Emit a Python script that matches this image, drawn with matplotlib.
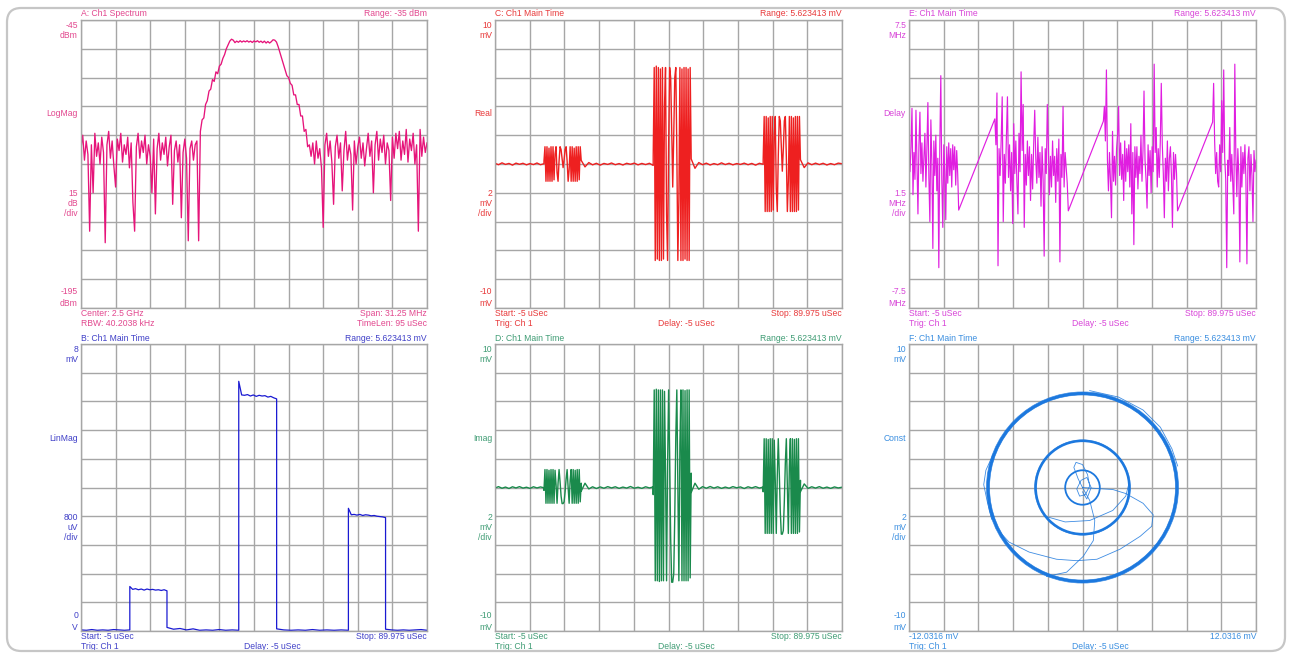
import numpy as np
import matplotlib
matplotlib.use("Agg")
import matplotlib.pyplot as plt
from matplotlib.patches import Circle, FancyBboxPatch

# --- CANVAS ---
W, H, DPI = 1289, 653, 100
FS = 6.2
GRID = '#a6a6a6'

# --- A: SPECTRUM (dBm), equally spaced over the span ---
SPAN_MHZ = 31.25
spec_left_dbm = [-112, -105, -118, -108, -115, -155, -110, -135, -104, -116,
                 -109, -120, -106, -114, -161, -110, -103, -117, -108, -121,
                 -132, -107, -113, -104, -119, -110, -115, -106, -122, -109,
                 -140, -155, -111, -104, -117, -108, -114, -105, -120, -110,
                 -116, -135, -107, -146, -112, -104, -118, -109, -115, -106,
                 -121, -111, -105, -141, -113, -108, -119, -110, -148, -114,
                 -107, -117, -160, -112, -108, -118, -110]
spec_rise_dbm = [-108, -160, -103, -97, -96, -89, -87, -82, -81, -76, -77,
                 -72, -73, -69, -68, -65, -63, -60, -58, -56, -55, -55.5]
spec_top_dbm = [-56.8, -56.0, -56.6, -55.8, -56.5, -55.9, -56.4, -55.8, -56.5, -56.0,
                -56.7, -55.9, -56.4, -55.8, -56.6, -56.0, -56.8, -56.0, -57.0, -56.2,
                -57.0, -56.3, -55.3, -55.5]
spec_fall_dbm = [-56.5, -59, -62, -65, -68, -71, -74, -75, -78, -79, -84,
                 -84, -89, -89, -95, -95, -103, -102, -111, -110, -116]
spec_right_dbm = [-109, -120, -108, -117, -112, -122,
                  -153, -110, -104, -116, -108, -119, -141, -111, -105, -117,
                  -109, -134, -113, -103, -118, -110, -115, -144, -108, -120,
                  -111, -106, -117, -109, -121, -112, -104, -116, -108, -135,
                  -110, -103, -118, -107, -114, -105, -120, -109, -113, -139,
                  -106, -117, -104, -112, -103, -118, -108, -115, -102, -119,
                  -107, -113, -104, -120, -110, -155, -102, -116, -106, -114,
                  -109]

# --- TIME RECORD (uSec) ---
T_START, T_STOP = -5.0, 89.975
burst_start_us = [8.4, 38.3, 68.4]
burst_stop_us = [18.6, 48.7, 78.6]

# C: Real (mV)
real_base_mv = [
    [0.05, -0.05, 0.08, -0.03, 0.04, -0.08, 0.06, -0.02, 0.05, -0.06, 0.03, -0.04, 0.07, -0.05, 0.02],
    [0.25, -0.2, 0.1, -0.06, 0.05, -0.08, 0.04, -0.03, 0.07, -0.05, 0.03, -0.07, 0.05, -0.02, 0.06, -0.06, 0.04, -0.04, 0.05, -0.1],
    [0.35, -0.3, 0.1, -0.05, 0.06, -0.07, 0.03, -0.05, 0.08, -0.04, 0.05, -0.06, 0.03, -0.03, 0.06, -0.05, 0.04, -0.08, 0.05, -0.02],
    [0.3, -0.25, 0.08, -0.05, 0.06, -0.04, 0.05, -0.07, 0.03, -0.05, 0.06, 0.02],
]
real_burst_mv = [
    [0.2, 1.2, -1.2, 1.2, -1.2, 1.1, -1.2, 1.2, -1.2, 1.2,
     -1.1, 0.7, 1.2, -0.6, -1.2, 0.2, 1.2, 1.0, 0.4, -0.25,
     0.3, 1.0, 1.2, 0.2, -1.2, -0.4, 1.2, -1.2, 1.2, -1.2,
     1.1, -1.2, 1.2, -1.2, 1.2, -1.1, 1.2, 0.3],
    [0.5, 6.7, -6.7, 6.8, -6.6, 6.7, -6.7, 6.6, -6.7, 6.7,
     -6.6, 4.0, 6.7, -3.5, -6.7, 1.2, 6.7, 6.0, 2.5, -1.6,
     2.0, 6.0, 6.7, 1.0, -6.7, -2.5, 6.7, -6.7, 6.6, -6.7,
     6.7, -6.6, 6.7, -6.7, 6.6, -6.7, 6.7, 0.8],
    [0.3, 3.3, -3.3, 3.3, -3.3, 3.2, -3.3, 3.3, -3.3, 3.3,
     -3.2, 2.0, 3.3, -1.7, -3.3, 0.6, 3.3, 3.0, 1.3, -0.5,
     1.0, 3.0, 3.3, 0.5, -3.3, -1.2, 3.3, -3.3, 3.3, -3.3,
     3.2, -3.3, 3.3, -3.3, 3.3, -3.2, 3.3, 0.4],
]

# D: Imag (mV)
imag_base_mv = [
    [-0.04, 0.06, -0.05, 0.03, -0.07, 0.05, -0.03, 0.06, -0.04, 0.02, -0.06, 0.05, -0.03, 0.04, -0.02],
    [-0.25, 0.3, -0.1, 0.05, -0.07, 0.04, -0.05, 0.06, -0.03, 0.05, -0.06, 0.03, -0.04, 0.07, -0.05, 0.02, -0.06, 0.05, -0.03, 0.04],
    [-0.35, 0.3, -0.12, 0.06, -0.05, 0.07, -0.04, 0.05, -0.06, 0.03, -0.05, 0.06, -0.02, 0.04, -0.07, 0.05, -0.03, 0.06, -0.04, 0.03],
    [-0.3, 0.25, -0.06, 0.05, -0.04, 0.06, -0.05, 0.03, -0.06, 0.04, -0.03, 0.02],
]
imag_burst_mv = [
    [-0.2, 1.25, -1.1, 1.25, -1.1, 1.2, -1.1, 1.25, -1.1, 1.25,
     -1.1, 1.2, 0.2, -1.1, 0.3, 1.25, 0.4, -0.6, -1.12, -1.12,
     -1.0, -0.3, 0.6, 1.25, 0.0, -1.1, 0.5, 1.25, -1.1, 1.25,
     -1.1, 1.2, -1.1, 1.25, -1.1, 1.25, -1.0, 0.3],
    [-0.5, 6.8, -6.5, 6.85, -6.5, 6.8, -6.55, 6.8, -6.5, 6.8,
     -6.5, 6.7, 1.0, -6.5, 1.5, 6.8, 2.0, -3.5, -6.6, -6.6,
     -6.0, -2.0, 3.5, 6.8, 0.0, -6.5, 3.0, 6.8, -6.5, 6.8,
     -6.5, 6.75, -6.5, 6.8, -6.5, 6.8, -6.3, 1.0],
    [-0.3, 3.4, -3.2, 3.4, -3.2, 3.35, -3.2, 3.4, -3.2, 3.4,
     -3.2, 3.3, 0.5, -3.2, 0.8, 3.4, 1.0, -1.7, -3.25, -3.25,
     -3.0, -1.0, 1.7, 3.4, 0.0, -3.2, 1.5, 3.4, -3.2, 3.4,
     -3.2, 3.35, -3.2, 3.4, -3.2, 3.4, -3.1, 0.5],
]

# B: LinMag (mV)
mag_base_mv = [
    [0.03, 0.02, 0.04, 0.02, 0.03, 0.02, 0.04, 0.03, 0.02, 0.03],
    [0.1, 0.05, 0.07, 0.03, 0.06, 0.02, 0.03, 0.02, 0.04, 0.02, 0.03, 0.02],
    [0.06, 0.03, 0.02, 0.03, 0.02, 0.04, 0.02, 0.03, 0.02, 0.03, 0.02],
    [0.05, 0.03, 0.02, 0.03, 0.02, 0.03, 0.04, 0.02],
]
mag_burst_mv = [
    [1.24, 1.16, 1.18, 1.15, 1.17, 1.14, 1.17, 1.15, 1.16, 1.14, 1.15, 1.13, 1.15, 1.12],
    [6.96, 6.58, 6.57, 6.59, 6.55, 6.58, 6.54, 6.57, 6.55, 6.56, 6.52, 6.54, 6.50, 6.47],
    [3.42, 3.24, 3.25, 3.23, 3.25, 3.22, 3.24, 3.23, 3.21, 3.22, 3.20, 3.19, 3.18, 3.16],
]

# E: Delay (MHz) - noisy gaps, the ramps join the segment ends
delay_seg_start_us = [-5.0, 18.5, 48.2, 78.1]
delay_seg_stop_us = [8.6, 38.6, 68.5, 89.975]
delay_segs_mhz = [
    [0.5, -0.4, 0.9, 2.9, -1.6, 0.6, -0.8, 2.8, 0.2, -2.6,
     1.0, 2.7, -0.5, 1.1, -0.9, 0.4, 1.6, -1.2, 0.8, 3.2,
     -0.7, -3.0, 2.3, 0.1, -4.4, 1.2, -0.6, 1.5, -1.4, 0.3,
     -5.4, 0.9, 4.6, -0.8, -3.3, 1.0, -0.4, -2.9, 0.9, -1.0,
     1.1, -0.6, 0.8, -1.2, 1.0, -0.3, 0.9, -1.1, 0.7, -0.5, -2.4],
    [2.35, 1.0, 3.7, -5.3, 0.8, -0.6, 1.2, 3.5, -3.0, 0.5,
     -1.0, 1.4, 3.5, -0.7, 1.0, -1.4, 0.6, -3.1, 2.1, -0.5,
     1.2, -0.9, -2.6, 1.6, -0.4, 4.8, 0.7, 3.1, -3.3, 0.5,
     -1.1, 1.2, -0.6, 0.9, -1.9, 0.5, -1.3, 1.0, 2.8, 0.3,
     -1.0, 1.4, -0.7, 0.6, -2.2, 0.9, -0.8, -4.8, 0.8, -0.5,
     3.1, 1.0, -1.6, 0.4, -1.2, 1.2, -0.6, 0.4, -2.0, 0.8,
     -0.9, 1.3, -5.1, 0.5, -0.7, 3.0, -1.2, 0.6, -0.2, -1.0, -2.44],
    [2.23, 3.0, 1.2, 4.9, 0.2, -1.4, 0.6, -0.9, -2.8, 1.7,
     -0.9, 0.4, -1.1, 0.8, 1.5, 3.0, -0.6, 1.1, -0.8, 0.5,
     -1.9, 1.2, -0.9, 0.8, -0.4, 1.0, -1.2, 2.1, -2.6, 0.6,
     -4.2, 0.9, -0.7, 0.9, -1.3, 0.4, -0.5, 1.5, -0.9, 0.7,
     3.8, 0.2, -0.8, -2.3, 1.0, -0.6, 0.7, -1.5, 0.9, -0.4,
     5.2, 0.6, 1.9, -1.2, 0.8, -0.7, 1.1, 4.2, 1.0, -0.5,
     -2.8, 0.3, -0.9, 1.2, -1.4, 0.3, 0.9, -0.6, -3.3, 0.6,
     -0.8, 0.5, -0.5, -2.44],
    [2.18, 4.2, 1.2, -0.5, 0.6, -0.9, -1.2, 1.0, -0.4, 3.3,
     0.6, 4.9, 0.3, -0.8, -5.4, 0.2, -0.6, 1.9, -0.9, 0.5,
     -1.0, -2.6, 5.2, 0.5, -1.7, 0.8, -0.6, -5.1, 0.9, -1.2,
     0.6, -0.5, 1.0, -0.8, -5.2, 0.3, 0.9, -1.4, 0.5, -0.6,
     -3.0, 0.7, -0.4, 0.2],
]

# F: constellation (mV)
CONST_X_MV = 12.0316
const_ring_mv = [6.55, 3.25, 1.2]
const_halo_mv = [6.45, 6.66, 3.32]
const_paths_i = [
    [0.0, 1.0, 2.1, 3.0, 4.2, 4.9, 4.8, 4.0, 2.6, 1.0, -0.4, -1.8, -3.7, -5.1, -6.0],
    [-2.6, -1.2, 0.5, 2.1, 3.0, 3.2],
    [0.0, 0.5, 0.85, 0.75, 0.05, -1.1, -2.5],
    [0.0, -0.3, -0.6, -0.45, 0.0, 0.35, 0.5, 0.2, -0.2, -0.4, -0.1, 0.3, 0.6, 0.3, 0.0],
    [0.5, 2.5, 4.2, 5.4, 6.2, 6.6],
    [-6.2, -6.7, -6.85, -6.6, -6.3],
]
const_paths_q = [
    [0.0, -0.07, -0.14, -0.42, -1.1, -1.9, -2.7, -3.4, -4.3, -5.0, -5.1, -5.0, -4.5, -3.8, -2.8],
    [-2.0, -2.4, -2.3, -1.6, -0.6, 0.2],
    [0.0, -0.9, -2.3, -3.7, -4.8, -5.9, -6.2],
    [0.0, 0.6, 1.4, 1.75, 1.6, 0.9, 0.1, -0.5, -0.6, -0.1, 0.5, 0.7, 0.0, -0.8, -0.3],
    [6.75, 6.3, 5.4, 4.2, 2.7, 1.5],
    [2.3, 1.2, 0.2, -1.0, -2.2],
]

SIDE_OFFS = [5, 15, 94, 173, 183, 193, 272, 283]


def make_axes(fig, l, t, r, b):
    return fig.add_axes([l / W, 1 - b / H, (r - l) / W, (b - t) / H])


def dress(ax, xlim, ylim, tc, title, rng, side, foot):
    ax.set_xlim(xlim)
    ax.set_ylim(ylim)
    ax.set_xticks(np.linspace(xlim[0], xlim[1], 11))
    ax.set_yticks(np.linspace(ylim[0], ylim[1], 11))
    ax.tick_params(length=0, labelbottom=False, labelleft=False)
    ax.grid(True, color=GRID, lw=1.0)
    ax.set_axisbelow(True)
    for sp in ax.spines.values():
        sp.set_color(GRID)
        sp.set_linewidth(1.0)

    def put(txt, xy, off, ha):
        ax.annotate(txt, xy, xycoords='axes fraction', xytext=off,
                    textcoords='offset pixels', ha=ha, va='center',
                    fontsize=FS, color=tc)

    put(title, (0, 1), (0, 6), 'left')
    put(rng, (1, 1), (0, 6), 'right')
    for txt, off in zip(side, SIDE_OFFS):
        put(txt, (0, 1), (-3, -off), 'right')
    for txt, xf, line, ha in foot:
        put(txt, (xf, 0), (0, -5.5 - 10 * line), ha)


def time_foot(left1='Start: -5 uSec', right1='Stop: 89.975 uSec'):
    return [(left1, 0, 0, 'left'), ('Trig: Ch 1', 0, 1, 'left'),
            (right1, 1, 0, 'right'), ('Delay: -5 uSec', 0.47, 1, 'left')]


def burst_trace(bases, bursts):
    edges = [T_START]
    for a, b in zip(burst_start_us, burst_stop_us):
        edges += [a, b]
    edges.append(T_STOP)
    segs = []
    for k in range(len(bursts)):
        segs += [bases[k], bursts[k]]
    segs.append(bases[-1])
    t = np.concatenate([np.linspace(edges[k], edges[k + 1], len(v)) for k, v in enumerate(segs)])
    y = np.concatenate([np.asarray(v, float) for v in segs])
    return t, y


def main():
    plt.rcParams['font.family'] = ['Liberation Sans', 'DejaVu Sans']
    fig = plt.figure(figsize=(W / DPI, H / DPI), dpi=DPI)

    border = FancyBboxPatch((7 / W, 2 / H), 1278 / W, 643 / H,
                            boxstyle='round,pad=0,rounding_size=0.011',
                            mutation_aspect=W / H, transform=fig.transFigure,
                            fill=False, ec='#c6c6c6', lw=1.6)
    fig.patches.append(border)

    # A: spectrum
    axA = make_axes(fig, 81, 20, 427, 308)
    spec_db = np.concatenate([spec_left_dbm, spec_rise_dbm, spec_top_dbm,
                              spec_fall_dbm, spec_right_dbm])
    spec_f = np.linspace(-SPAN_MHZ / 2, SPAN_MHZ / 2, len(spec_db))
    axA.plot(spec_f, spec_db, color='#e6147a', lw=0.95)
    dress(axA, (-SPAN_MHZ / 2, SPAN_MHZ / 2), (-195, -45), '#e2478e',
          'A: Ch1 Spectrum', 'Range: -35 dBm',
          ['-45', 'dBm', 'LogMag', '15', 'dB', '/div', '-195', 'dBm'],
          [('Center: 2.5 GHz', 0, 0, 'left'), ('RBW: 40.2038 kHz', 0, 1, 'left'),
           ('Span: 31.25 MHz', 1, 0, 'right'), ('TimeLen: 95 uSec', 1, 1, 'right')])

    # C: real part
    axC = make_axes(fig, 495, 20, 842, 308)
    t, y = burst_trace(real_base_mv, real_burst_mv)
    axC.plot(t, y, color='#ee2020', lw=1.0)
    dress(axC, (T_START, T_STOP), (-10, 10), '#e8393a',
          'C: Ch1 Main Time', 'Range: 5.623413 mV',
          ['10', 'mV', 'Real', '2', 'mV', '/div', '-10', 'mV'], time_foot())

    # E: delay
    axE = make_axes(fig, 909, 20, 1256, 308)
    t = np.concatenate([np.linspace(a, b, len(v)) for a, b, v in
                        zip(delay_seg_start_us, delay_seg_stop_us, delay_segs_mhz)])
    y = np.concatenate(delay_segs_mhz)
    axE.plot(t, y, color='#e01ee0', lw=0.85)
    dress(axE, (T_START, T_STOP), (-7.5, 7.5), '#d845d8',
          'E: Ch1 Main Time', 'Range: 5.623413 mV',
          ['7.5', 'MHz', 'Delay', '1.5', 'MHz', '/div', '-7.5', 'MHz'], time_foot())

    # B: magnitude
    axB = make_axes(fig, 81, 344, 427, 631)
    t, y = burst_trace(mag_base_mv, mag_burst_mv)
    axB.plot(t, y, color='#1a1ad2', lw=0.9)
    dress(axB, (T_START, T_STOP), (0, 8), '#4040c8',
          'B: Ch1 Main Time', 'Range: 5.623413 mV',
          ['8', 'mV', 'LinMag', '800', 'uV', '/div', '0', 'V'], time_foot())

    # D: imaginary part
    axD = make_axes(fig, 495, 344, 842, 631)
    t, y = burst_trace(imag_base_mv, imag_burst_mv)
    axD.plot(t, y, color='#1a8a4c', lw=1.0)
    dress(axD, (T_START, T_STOP), (-10, 10), '#3f9c74',
          'D: Ch1 Main Time', 'Range: 5.623413 mV',
          ['10', 'mV', 'Imag', '2', 'mV', '/div', '-10', 'mV'], time_foot())

    # F: constellation
    axF = make_axes(fig, 909, 344, 1256, 631)
    fcol = '#1c78de'
    for r, lw in zip(const_ring_mv, [2.2, 1.8, 1.3]):
        axF.add_patch(Circle((0, 0), r, fill=False, ec=fcol, lw=lw))
    for r in const_halo_mv:
        axF.add_patch(Circle((0, 0), r, fill=False, ec=fcol, lw=0.5, alpha=0.8))
    for pi, pq in zip(const_paths_i, const_paths_q):
        axF.plot(pi, pq, color=fcol, lw=0.6, alpha=0.85)
    dress(axF, (-CONST_X_MV, CONST_X_MV), (-10, 10), '#3a8ee0',
          'F: Ch1 Main Time', 'Range: 5.623413 mV',
          ['10', 'mV', 'Const', '2', 'mV', '/div', '-10', 'mV'],
          time_foot('-12.0316 mV', '12.0316 mV'))

    fig.savefig('out.png', dpi=DPI, facecolor='white')
    plt.close(fig)


if __name__ == "__main__":
    main()
